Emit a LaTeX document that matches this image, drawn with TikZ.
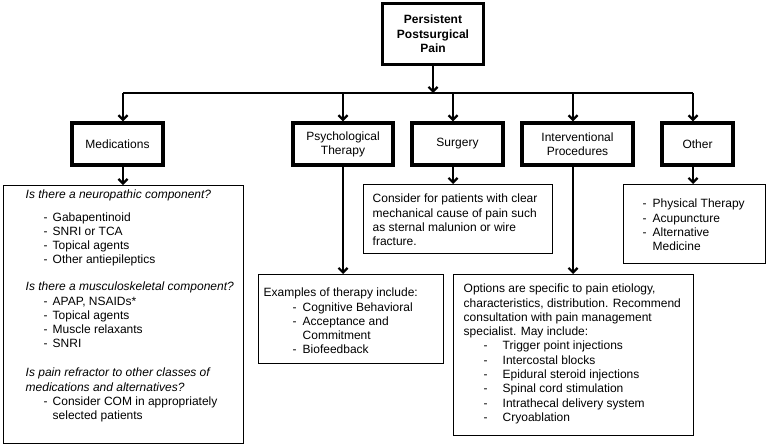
\documentclass[tikz,border=0pt]{standalone}
\usepackage{fontspec}
\setmainfont{Liberation Sans}
\usepackage{tikz}
\usetikzlibrary{arrows.meta,positioning,calc}
\tikzset{
  flowarrow/.style={-{Straight Barb[length=4.5pt,width=9pt]}, line width=2.2pt, draw=black},
  barline/.style={line width=2.2pt, draw=black},
  mainbox/.style={draw=black, line width=3.4pt, align=center, inner sep=2pt,
    minimum height=42pt, font=\fontsize{12}{14}\selectfont},
  titlebox/.style={mainbox, minimum height=61pt, minimum width=101pt,
    font=\fontsize{12}{14.5}\selectfont\bfseries},
  notebox/.style={draw=black, line width=1.4pt, inner sep=0pt, anchor=north west,
    font=\fontsize{12}{14.3}\selectfont}
}
% one line of a dash list: indent, width of the dash column, text
\newcommand{\dashline}[3]{\hspace*{#1}\makebox[#2][l]{-}#3}

\begin{document}
\begin{tikzpicture}[x=1pt,y=-1pt]
  \useasboundingbox (0,0) rectangle (766,447);

  % top of the tree
  \node[titlebox] (ppp) at (433,34) {Persistent\\Postsurgical\\Pain};

  \node[mainbox, minimum width=91pt] (med) at (117.5,144) {Medications};
  \node[mainbox, minimum width=100pt] (psy) at (343,144) {Psychological\\Therapy};
  \node[mainbox, minimum width=91pt] (sur) at (457.5,144) {Surgery};
  \node[mainbox, minimum width=111pt] (itv) at (577.5,144) {Interventional\\Procedures};
  \node[mainbox, minimum width=71pt] (oth) at (697.5,144) {Other};

  % branch points on the bar
  \coordinate (jmed) at (123,93);
  \coordinate (jpsy) at (343,93);
  \coordinate (jsur) at (453,93);
  \coordinate (jitv) at (573,93);
  \coordinate (joth) at (693,93);

  % detail boxes
  \node[notebox] (medd) at (3,185) {\parbox[c][258pt][t]{240pt}{\raggedright\leftskip=22pt
    \rule{0pt}{12.5pt}\textit{Is there a neuropathic component?}\\[8.5pt]
    \dashline{18pt}{9pt}{Gabapentinoid}\\
    \dashline{18pt}{9pt}{SNRI or TCA}\\
    \dashline{18pt}{9pt}{Topical agents}\\
    \dashline{18pt}{9pt}{Other antiepileptics}\\[12.5pt]
    \textit{Is there a musculoskeletal component?}\\
    \dashline{18pt}{9pt}{APAP, NSAIDs*}\\
    \dashline{18pt}{9pt}{Topical agents}\\
    \dashline{18pt}{9pt}{Muscle relaxants}\\
    \dashline{18pt}{9pt}{SNRI}\\[14.5pt]
    \textit{Is pain refractor to other classes of}\\
    \textit{medications and alternatives?}\\
    \dashline{18pt}{9pt}{Consider COM in appropriately}\\
    \hspace*{27pt}selected patients}};

  \node[notebox] (psyd) at (258,274) {\parbox[c][89pt][t]{185pt}{\raggedright\leftskip=5pt
    \rule{0pt}{22pt}Examples of therapy include:\\
    \dashline{29pt}{10pt}{Cognitive Behavioral}\\
    \dashline{29pt}{10pt}{Acceptance and}\\
    \hspace*{39pt}Commitment\\
    \dashline{29pt}{10pt}{Biofeedback}}};

  \node[notebox] (surd) at (363,184) {\parbox[c][69pt][t]{189pt}{\raggedright\leftskip=9pt
    \rule{0pt}{18pt}Consider for patients with clear\\
    mechanical cause of pain such\\
    as sternal malunion or wire\\
    fracture.}};

  \node[notebox] (itvd) at (453,274) {\parbox[c][161pt][t]{240pt}{\raggedright\leftskip=10pt
    \rule{0pt}{18pt}Options are specific to pain etiology,\\
    characteristics, distribution. Recommend\\
    consultation with pain management\\
    specialist. May include:\\
    \dashline{20pt}{19pt}{Trigger point injections}\\
    \dashline{20pt}{19pt}{Intercostal blocks}\\
    \dashline{20pt}{19pt}{Epidural steroid injections}\\
    \dashline{20pt}{19pt}{Spinal cord stimulation}\\
    \dashline{20pt}{19pt}{Intrathecal delivery system}\\
    \dashline{20pt}{19pt}{Cryoablation}}};

  \node[notebox] (othd) at (623,184) {\parbox[c][79pt][t]{142pt}{\raggedright\leftskip=19pt
    \rule{0pt}{23pt}\dashline{0pt}{10pt}{Physical Therapy}\\
    \dashline{0pt}{10pt}{Acupuncture}\\
    \dashline{0pt}{10pt}{Alternative}\\
    \hspace*{10pt}Medicine}};

  % connectors
  \draw[flowarrow] (ppp.south) -- (ppp.south |- jmed);
  \draw[barline] (jmed) -- (joth);
  \draw[flowarrow] (jmed) -- (jmed |- med.north);
  \draw[flowarrow] (jpsy) -- (jpsy |- psy.north);
  \draw[flowarrow] (jsur) -- (jsur |- sur.north);
  \draw[flowarrow] (jitv) -- (jitv |- itv.north);
  \draw[flowarrow] (joth) -- (joth |- oth.north);

  \draw[flowarrow] (med.south -| jmed) -- (jmed |- medd.north);
  \draw[flowarrow] (psy.south -| jpsy) -- (jpsy |- psyd.north);
  \draw[flowarrow] (sur.south -| jsur) -- (jsur |- surd.north);
  \draw[flowarrow] (itv.south -| jitv) -- (jitv |- itvd.north);
  \draw[flowarrow] (oth.south -| joth) -- (joth |- othd.north);
\end{tikzpicture}
\end{document}
